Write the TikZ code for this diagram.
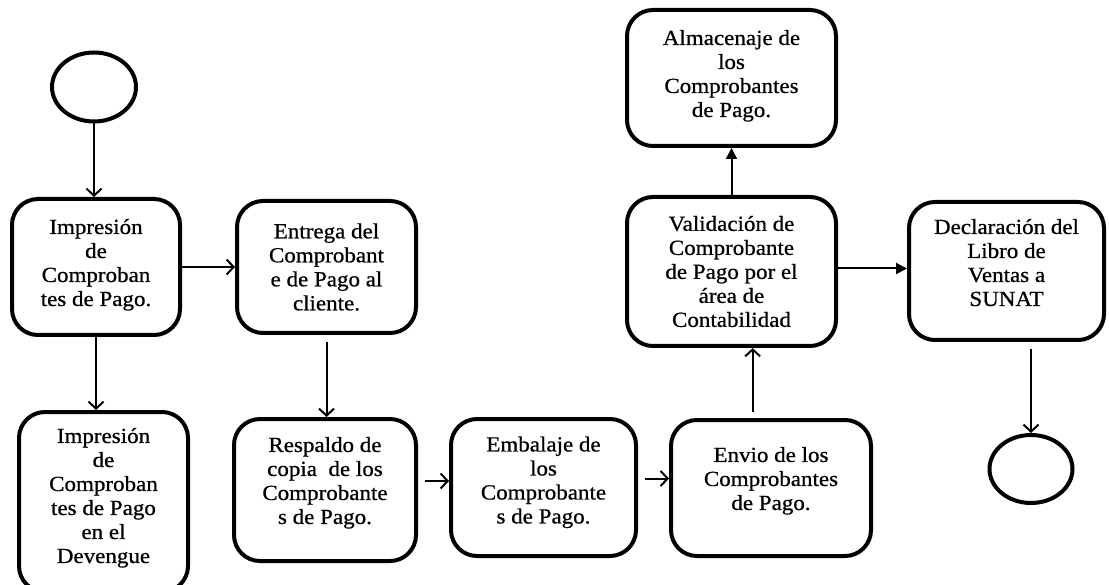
\documentclass[tikz,border=0pt]{standalone}
\usepackage{fontspec}
\setmainfont{Liberation Serif}[FakeStretch=1.07,FakeBold=0.7]
\usetikzlibrary{arrows.meta,shapes.geometric,calc}
\newcommand{\lowpad}[1]{\rule[-#1pt]{0pt}{0pt}}
\begin{document}
\begin{tikzpicture}[x=1pt,y=-1pt,
  box/.style={draw, line width=4pt, rounded corners=26pt, align=center,
    font=\fontsize{21.5}{24}\selectfont, inner sep=0pt},
  term/.style={draw, line width=4pt, ellipse, inner sep=0pt},
  arr/.style={line width=2pt, -{Straight Barb[length=7pt,width=15pt,line width=2pt]}},
  farr/.style={line width=2pt, -{Triangle[length=11pt,width=11pt]}}]
\fill[white] (0,0) rectangle (1109,585);
\useasboundingbox (0,0) rectangle (1109,585);

\node[term, minimum width=84pt, minimum height=69pt] (start) at (94,87) {};
\node[term, minimum width=83pt, minimum height=68pt] (end) at (1031,469) {};

\node[box, minimum width=168pt, minimum height=136pt] (b1) at (96,267)
  {Impresión\\de\\Comproban\\tes de Pago.\lowpad{9}};
\node[box, minimum width=179pt, minimum height=132pt] (b2) at (326.5,267)
  {Entrega del\\Comprobant\\e de Pago al\\cliente.};
\node[box, minimum width=169pt, minimum height=180pt] (b3) at (103.5,502)
  {Impresión\\de\\Comproban\\tes de Pago\\en el\\Devengue\lowpad{13}};
\node[box, minimum width=182pt, minimum height=142pt] (b4) at (325,490)
  {Respaldo de\\copia~~de los\\Comprobante\\s de Pago.\lowpad{19}};
\node[box, minimum width=185pt, minimum height=137pt] (b5) at (543.5,487.5)
  {Embalaje de\\los\\Comprobante\\s de Pago.\lowpad{15}};
\node[box, minimum width=200pt, minimum height=136pt] (b6) at (771,488)
  {Envio de los\\Comprobantes\\de Pago.\lowpad{19}};
\node[box, minimum width=209pt, minimum height=136pt] (alm) at (731.5,78)
  {Almacenaje de\\los\\Comprobantes\\de Pago.\lowpad{9}};
\node[box, minimum width=209pt, minimum height=149pt] (val) at (731.5,271.5)
  {Validación de\\Comprobante\\de Pago por el\\área de\\Contabilidad};
\node[box, minimum width=195pt, minimum height=138pt] (dec) at (1006.5,271)
  {Declaración del\\Libro de\\Ventas a\\SUNAT\lowpad{17}};

\draw[arr] (start.south) -- (start.south |- b1.north);
\draw[arr] (b1.east) -- (b1.east -| b2.west);
\draw[arr] (b1.south) -- (b1.south |- b3.north);
\draw[arr, shorten <=7pt] (b2.south) -- (b2.south |- b4.north);
\draw[arr, shorten <=7pt] ([yshift=9pt]b4.east) -- ([yshift=9pt]b4.east -| b5.west);
\draw[arr, shorten <=7pt] ([yshift=9pt]b5.east) -- ([yshift=9pt]b5.east -| b6.west);
\coordinate (b6top) at ($(b6.north west)!0.41!(b6.north east)$);
\draw[arr, shorten <=6pt] (b6top) -- (b6top |- val.south);
\draw[farr] (val.north) -- (alm.south);
\draw[farr] ([yshift=3pt]val.east) -- ([yshift=3pt]val.east -| dec.west);
\draw[arr, shorten <=7pt] (end.north |- dec.south) -- (end.north);
\end{tikzpicture}
\end{document}
